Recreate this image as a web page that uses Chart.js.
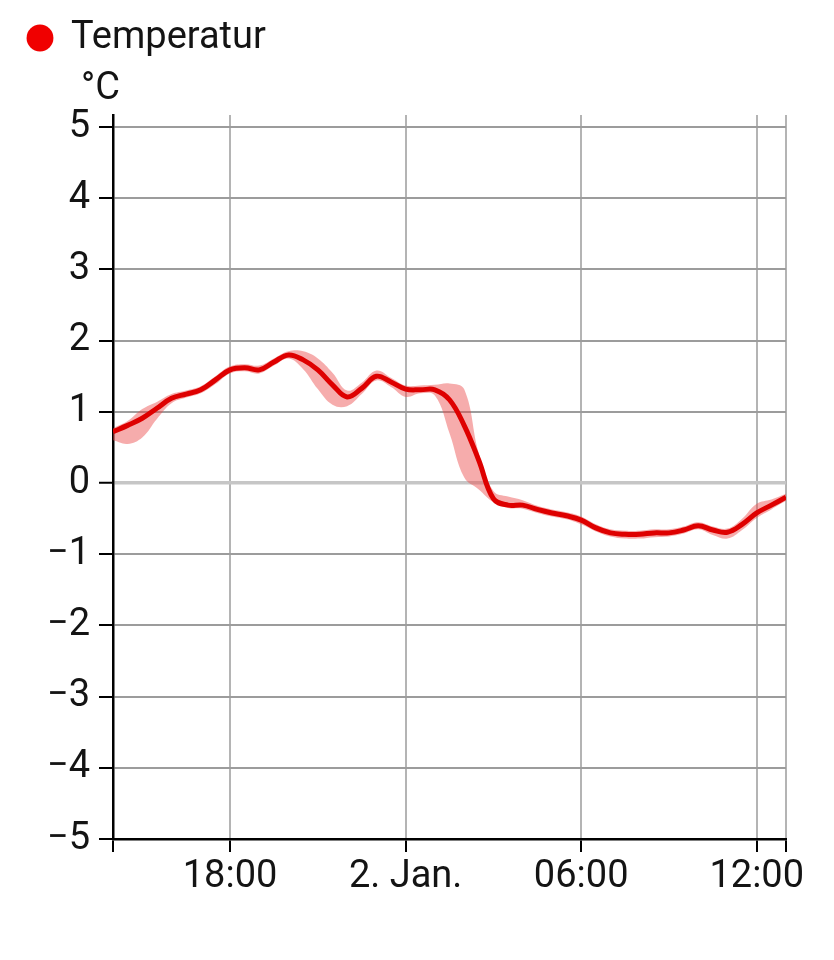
<!DOCTYPE html>
<html>
<head>
<meta charset="utf-8">
<script src="https://cdn.jsdelivr.net/npm/chart.js@4.4.1/dist/chart.umd.min.js"></script>
<style>
html,body{margin:0;padding:0;background:#fff;}
#wrap{width:834px;height:960px;}
</style>
</head>
<body>
<div id="wrap"><canvas id="c" width="834" height="960"></canvas></div>
<script>
// Hours since 1 Jan 00:00
const hours = [14,14.5,15,15.5,16,16.5,17,17.5,18,18.5,19,19.5,20,20.5,21,21.5,22,22.5,23,23.5,24,24.5,25,25.5,26,26.5,27,27.5,28,28.5,29,29.5,30,30.5,31,31.5,32,32.5,33,33.5,34,34.5,35,35.5,36,36.5,37];
const tempMean = [0.72,0.81,0.91,1.05,1.19,1.25,1.31,1.45,1.59,1.62,1.59,1.70,1.80,1.73,1.59,1.38,1.21,1.33,1.50,1.42,1.32,1.31,1.31,1.17,0.81,0.32,-0.22,-0.31,-0.31,-0.37,-0.42,-0.46,-0.52,-0.63,-0.70,-0.72,-0.72,-0.70,-0.70,-0.66,-0.60,-0.66,-0.69,-0.58,-0.42,-0.31,-0.20];
const tempMin  = [0.60,0.55,0.64,0.90,1.12,1.20,1.26,1.39,1.54,1.57,1.54,1.65,1.75,1.60,1.32,1.10,1.08,1.25,1.44,1.35,1.21,1.26,1.23,0.70,0.08,-0.09,-0.27,-0.35,-0.36,-0.42,-0.47,-0.51,-0.58,-0.68,-0.75,-0.78,-0.78,-0.76,-0.75,-0.71,-0.65,-0.73,-0.78,-0.66,-0.49,-0.37,-0.25];
const tempMax  = [0.77,0.87,1.04,1.14,1.25,1.30,1.36,1.50,1.64,1.67,1.65,1.75,1.85,1.85,1.75,1.55,1.30,1.41,1.58,1.48,1.37,1.37,1.38,1.40,1.32,0.42,-0.11,-0.19,-0.24,-0.32,-0.37,-0.41,-0.47,-0.58,-0.65,-0.67,-0.67,-0.65,-0.65,-0.61,-0.55,-0.61,-0.64,-0.50,-0.29,-0.23,-0.15];

const xRange = [14, 37];
const xTickValues = [18, 24, 30, 36];
const xTickLabels = ['18:00', '2. Jan.', '06:00', '12:00'];
const yTickValues = [-5,-4,-3,-2,-1,0,1,2,3,4,5];
const seriesLabel = 'Temperatur';
const unitLabel = '°C';

const FONT = 'Roboto';
const TEXT = '#141414';
const FS = 38;

const toPts = (arr) => arr.map((v, i) => ({x: hours[i], y: v}));

const unitPlugin = {
  id: 'unitLabel',
  afterInit(chart) {
    const lg = chart.legend;
    if (lg) {
      const orig = lg.fit;
      lg.fit = function() { orig.call(this); this.height = 106; };
    }
  },
  afterDraw(chart) {
    const {ctx, chartArea} = chart;
    ctx.save();
    ctx.font = FS + 'px ' + FONT;
    ctx.fillStyle = TEXT;
    ctx.textAlign = 'left';
    ctx.textBaseline = 'alphabetic';
    ctx.fillText(unitLabel, chartArea.left - 32, chartArea.top - 16);
    ctx.restore();
  }
};

new Chart(document.getElementById('c'), {
  type: 'line',
  data: {
    datasets: [
      {
        label: seriesLabel,
        data: toPts(tempMean),
        borderColor: '#de0000',
        backgroundColor: '#ee0000',
        borderWidth: 5,
        pointRadius: 0,
        tension: 0.4,
        fill: false
      },
      {
        label: 'max',
        data: toPts(tempMax),
        borderWidth: 0,
        borderColor: 'rgba(0,0,0,0)',
        backgroundColor: 'rgba(236,70,70,0.45)',
        pointRadius: 0,
        tension: 0.4,
        fill: '+1'
      },
      {
        label: 'min',
        data: toPts(tempMin),
        borderWidth: 0,
        borderColor: 'rgba(0,0,0,0)',
        backgroundColor: 'rgba(236,70,70,0.45)',
        pointRadius: 0,
        tension: 0.4,
        fill: false
      }
    ]
  },
  options: {
    responsive: false,
    animation: false,
    devicePixelRatio: 1,
    layout: { padding: { left: 18, right: 48, top: 9, bottom: 0 } },
    plugins: {
      tooltip: { enabled: false },
      legend: {
        position: 'top',
        align: 'start',
        labels: {
          usePointStyle: true,
          boxWidth: 24,
          boxHeight: 19,
          padding: 10,
          color: TEXT,
          font: { family: FONT, size: FS, lineHeight: 1 },
          filter: (item) => item.datasetIndex === 0,
          generateLabels: (chart) => {
            const items = Chart.defaults.plugins.legend.labels.generateLabels(chart);
            return items.map(it => Object.assign(it, { lineWidth: 0, strokeStyle: 'rgba(0,0,0,0)', fillStyle: '#f00000', pointStyle: 'circle' }));
          }
        }
      }
    },
    scales: {
      x: {
        type: 'linear',
        min: xRange[0],
        max: xRange[1],
        afterBuildTicks: (s) => { s.ticks = [xRange[0], ...xTickValues, xRange[1]].map(v => ({ value: v })); },
        afterFit: (s) => { s.height = 121; },
        ticks: {
          autoSkip: false,
          maxRotation: 0,
          padding: 3,
          color: TEXT,
          font: { family: FONT, size: FS },
          callback: (v) => { const i = xTickValues.indexOf(v); return i >= 0 ? xTickLabels[i] : ''; }
        },
        grid: { color: '#b4b4b4', lineWidth: 2, tickLength: 13, tickColor: '#000', tickWidth: 2 },
        border: { color: '#000', width: 2.5 }
      },
      y: {
        type: 'linear',
        min: -5,
        max: 5.17,
        afterBuildTicks: (s) => { s.ticks = yTickValues.map(v => ({ value: v })); },
        afterFit: (s) => { s.width = 95; },
        ticks: {
          padding: 9,
          color: TEXT,
          font: { family: FONT, size: FS },
          callback: (v) => (v < 0 ? '\u2212' + Math.abs(v) : String(v))
        },
        grid: {
          color: (c) => (c.tick && c.tick.value === 0 ? '#c6c6c6' : '#9c9c9c'),
          lineWidth: (c) => (c.tick && c.tick.value === 0 ? 3.5 : 2),
          tickLength: 14,
          tickColor: '#000',
          tickWidth: 2
        },
        border: { color: '#000', width: 2.5 }
      }
    }
  },
  plugins: [unitPlugin]
});
</script>
</body>
</html>
